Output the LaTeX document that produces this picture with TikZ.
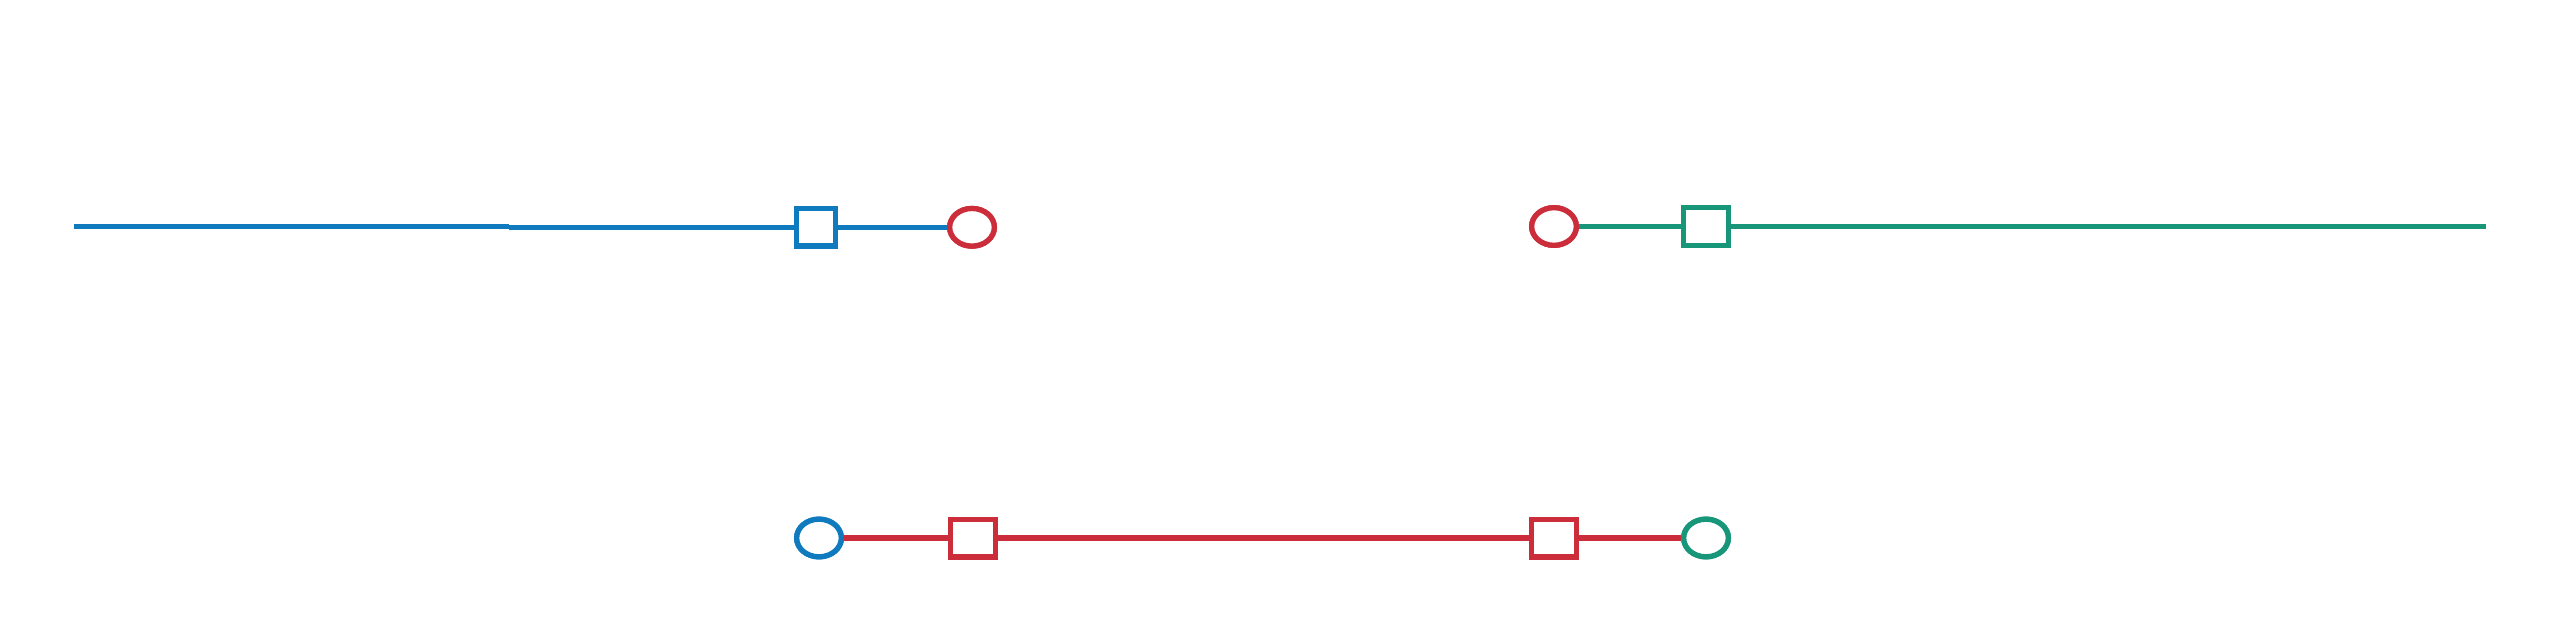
\documentclass[tikz,border=0pt]{standalone}
\usetikzlibrary{shapes.geometric}
\definecolor{cblue}{RGB}{15,123,190}
\definecolor{cred}{RGB}{204,45,58}
\definecolor{cgreen}{RGB}{24,150,122}
\begin{document}
\begin{tikzpicture}[x=0.3pt,y=-0.3pt,
  wire/.style={line width=1.6pt},
  sq/.style={draw,rectangle,line width=1.6pt,fill=white,inner sep=0pt,minimum width=13.4pt,minimum height=11.3pt},
  ov/.style={draw,ellipse,line width=1.6pt,fill=white,inner sep=0pt,minimum width=13.4pt,minimum height=11.3pt}]
\useasboundingbox (0,0) rectangle (2563,634);
% top left
\coordinate (bs) at (74,226.5);
\coordinate (bm1) at (509,226.5);
\coordinate (bm2) at (509,227.3);
\node[sq,draw=cblue,minimum width=11.6pt] (bq) at (816,227.3) {};
\node[ov,draw=cred] (ro1) at (972,227.3) {};
\draw[wire,cblue] (bs) -- (bm1);
\draw[wire,cblue] (bm2) -- (bq.west);
\draw[wire,cblue] (bq.east) -- (ro1.west);
\node[sq,draw=cblue,minimum width=11.6pt] at (bq) {};
\node[ov,draw=cred] at (ro1) {};
% top right
\node[ov,draw=cred] (ro2) at (1554,226.5) {};
\node[sq,draw=cgreen] (gq) at (1706,226.5) {};
\coordinate (ge) at (2486,226.5);
\draw[wire,cgreen] (ro2.east) -- (gq.west);
\draw[wire,cgreen] (gq.east) -- (ge);
\node[ov,draw=cred] at (ro2) {};
\node[sq,draw=cgreen] at (gq) {};
% bottom
\node[ov,draw=cblue] (bo) at (819,538) {};
\node[sq,draw=cred] (rq1) at (973,538) {};
\node[sq,draw=cred] (rq2) at (1554,538) {};
\node[ov,draw=cgreen] (go) at (1706,538) {};
\draw[wire,cred] (bo.east) -- (rq1.west);
\draw[wire,cred] (rq1.east) -- (rq2.west);
\draw[wire,cred] (rq2.east) -- (go.west);
\node[ov,draw=cblue] at (bo) {};
\node[sq,draw=cred] at (rq1) {};
\node[sq,draw=cred] at (rq2) {};
\node[ov,draw=cgreen] at (go) {};
\end{tikzpicture}
\end{document}
